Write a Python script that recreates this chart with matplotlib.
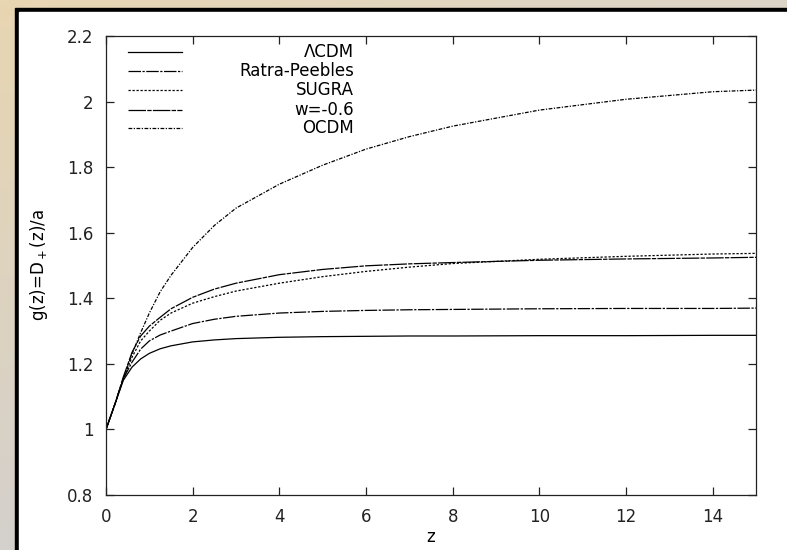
import numpy as np
import matplotlib.pyplot as plt
from matplotlib.patches import Rectangle

plt.rcParams['font.family'] = ['DejaVu Sans']

z = [0, 0.2, 0.4, 0.6, 0.8, 1, 1.25, 1.5, 2, 2.5, 3, 4, 5, 6, 7, 8, 10, 12, 14, 15]

g_lcdm = [1.0, 1.075, 1.15, 1.19, 1.215, 1.232, 1.246, 1.255, 1.267, 1.273, 1.277,
          1.281, 1.283, 1.284, 1.285, 1.285, 1.286, 1.286, 1.287, 1.287]
g_rp = [1.0, 1.075, 1.155, 1.205, 1.245, 1.27, 1.288, 1.30, 1.323, 1.336, 1.345,
        1.355, 1.360, 1.363, 1.365, 1.366, 1.368, 1.369, 1.369, 1.37]
g_sugra = [1.0, 1.075, 1.155, 1.22, 1.27, 1.30, 1.333, 1.355, 1.385, 1.405, 1.422,
           1.446, 1.466, 1.482, 1.495, 1.506, 1.519, 1.528, 1.535, 1.537]
g_w06 = [1.0, 1.075, 1.16, 1.235, 1.285, 1.315, 1.342, 1.368, 1.403, 1.428, 1.446,
         1.472, 1.488, 1.499, 1.505, 1.509, 1.516, 1.52, 1.523, 1.525]
g_ocdm = [1.0, 1.075, 1.155, 1.23, 1.295, 1.355, 1.42, 1.47, 1.555, 1.622, 1.675,
          1.748, 1.806, 1.855, 1.893, 1.925, 1.974, 2.007, 2.03, 2.035]

labels = ['\u039bCDM', 'Ratra-Peebles', 'SUGRA', 'w=-0.6', 'OCDM']
series = [g_lcdm, g_rp, g_sugra, g_w06, g_ocdm]
dashes = [None, (10, 1.2, 1.8, 1.2), (1.8, 1.4), (14, 1, 3.5, 1), (3, 1.2, 1, 1.2)]

W, H = 787, 550
fig = plt.figure(figsize=(W / 100, H / 100), dpi=100)

# beige frame around the white panel
bg = fig.add_axes([0, 0, 1, 1], zorder=-2)
yy, xx = np.mgrid[0:1:100j, 0:1:100j]
top = np.array([232, 214, 178]) / 255
bot = np.array([212, 208, 204]) / 255
right = np.array([222, 218, 214]) / 255
t = np.clip(yy + 0.6 * xx, 0, 1)[..., None]
grad = top * (1 - t) + bot * t
grad = grad * (1 - xx[..., None] * 0.3) + right * xx[..., None] * 0.3
bg.imshow(grad, aspect='auto', extent=[0, 1, 0, 1], origin='upper')
bg.add_patch(Rectangle((15 / W, 0), 1, 1 - 8 / H, color='black'))
bg.add_patch(Rectangle((19 / W, 0), 1, 1 - 12 / H, color='white'))
bg.set_xlim(0, 1)
bg.set_ylim(0, 1)
bg.axis('off')

ax = fig.add_axes([106 / W, 55 / H, 650 / W, 459 / H])
for g, lab, d in zip(series, labels, dashes):
    line, = ax.plot(z, g, color='black', lw=0.9, label=lab)
    if d is not None:
        line.set_dashes(d)

ax.set_xlim(0, 15)
ax.set_ylim(0.8, 2.2)
ax.set_xticks(np.arange(0, 15, 2))
ax.set_yticks(np.arange(0.8, 2.21, 0.2))
ax.set_yticklabels(['0.8', '1', '1.2', '1.4', '1.6', '1.8', '2', '2.2'])
ax.tick_params(direction='in', top=True, right=True, length=6, width=0.9,
               labelsize=12, colors='#222222')
ax.tick_params(axis='x', pad=9)
ax.tick_params(axis='y', pad=9)
for s in ax.spines.values():
    s.set_linewidth(0.9)
    s.set_color('#222222')
ax.set_xlabel('z', fontsize=12, labelpad=2)
ax.set_ylabel('g(z)=D$_+$(z)/a', fontsize=12, labelpad=12)

# gnuplot style key: sample on the left, label right-justified
rows = [0.965, 0.924, 0.882, 0.839, 0.800]
for yk, lab, d in zip(rows, labels, dashes):
    kl, = ax.plot([0.034, 0.117], [yk, yk], transform=ax.transAxes,
                  color='black', lw=0.9)
    if d is not None:
        kl.set_dashes(d)
    ax.text(0.3815, yk, lab, transform=ax.transAxes, ha='right', va='center',
            fontsize=12)

fig.savefig('out.png', dpi=100)
